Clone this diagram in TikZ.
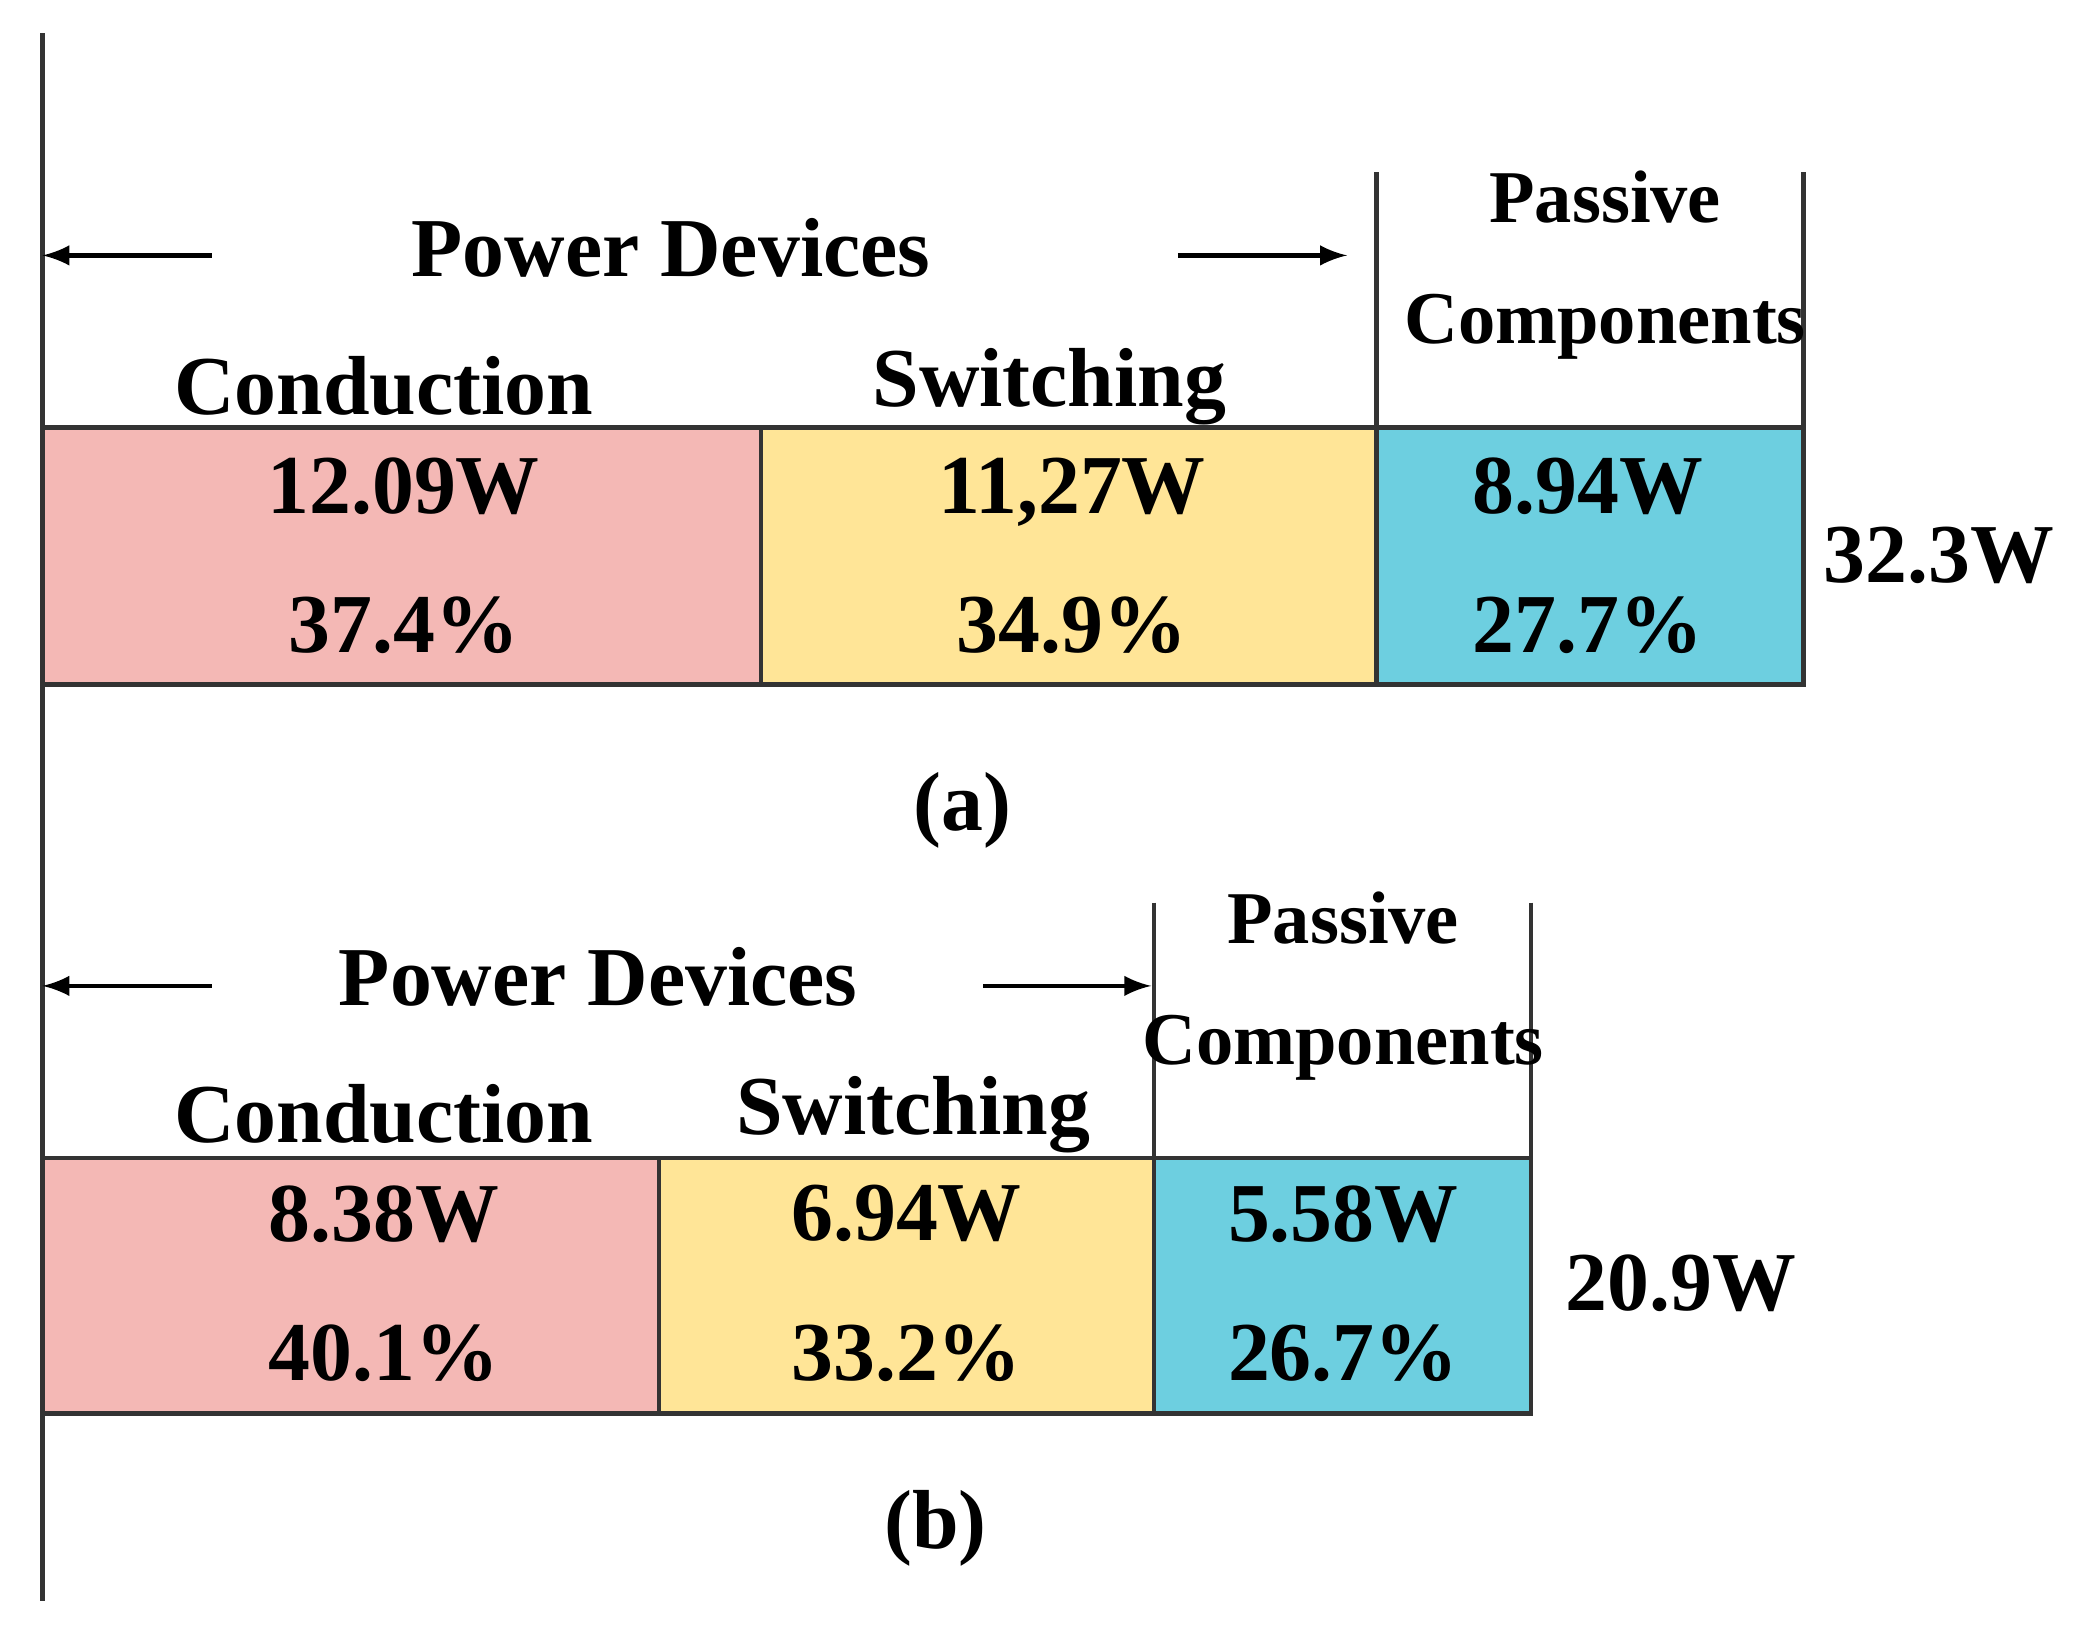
\documentclass[tikz,border=0pt]{standalone}
\usepackage{fontspec}
\setmainfont{Liberation Serif}
\begin{document}
\begin{tikzpicture}[x=0.01cm,y=-0.01cm,
 t/.style={font=\fontsize{18}{20}\selectfont\bfseries,inner sep=0pt},
 s/.style={font=\fontsize{16}{18}\selectfont\bfseries,inner sep=0pt},
 bx/.style={draw=black!80,line width=1pt},
 ln/.style={draw=black!80,line width=1pt},
 ar/.style={-latex,line width=1pt}]
\definecolor{pk}{HTML}{F4B8B5}\definecolor{yl}{HTML}{FFE597}\definecolor{bl}{HTML}{6DCFE0}
\useasboundingbox (0,0) rectangle (1568,1236);
\draw[ln] (32,25) -- (32,1210);
% (a)
\filldraw[bx,fill=pk] (32,323) rectangle (575,517);
\filldraw[bx,fill=yl] (575,323) rectangle (1040,517);
\filldraw[bx,fill=bl] (1040,323) rectangle (1363,517);
\draw[ln] (1040,130) -- (1040,323) (1363,130) -- (1363,323);
\coordinate (a1) at (160,193); \coordinate (a2) at (32,193);
\coordinate (a3) at (890,193); \coordinate (a4) at (1018,193);
\draw[ar] (a1) -- (a2); \draw[ar] (a3) -- (a4);
\node[t] (pa) at (507,187) {Power Devices};
\node[t] (ca) at (290,292) {Conduction};
\node[t] (sa) at (793,292) {Switching};
\node[s,align=center] (pca) at (1213,200) {Passive\\[8pt]Components};
\node[t,align=center] (v1) at (305,420) {12.09W\\[10pt]37.4\%};
\node[t,align=center] (v2) at (810,420) {11,27W\\[10pt]34.9\%};
\node[t,align=center] (v3) at (1200,420) {8.94W\\[10pt]27.7\%};
\node[t] (ta) at (1465,420) {32.3W};
\node[t] (la) at (727,612) {(a)};
% (b)
\filldraw[bx,fill=pk] (32,875) rectangle (498,1068);
\filldraw[bx,fill=yl] (498,875) rectangle (872,1068);
\filldraw[bx,fill=bl] (872,875) rectangle (1157,1068);
\draw[ln] (872,682) -- (872,875) (1157,682) -- (1157,875);
\coordinate (b1) at (160,745); \coordinate (b2) at (32,745);
\coordinate (b3) at (743,745); \coordinate (b4) at (870,745);
\draw[ar] (b1) -- (b2); \draw[ar] (b3) -- (b4);
\node[t] (pb) at (452,738) {Power Devices};
\node[t] (cb) at (290,842) {Conduction};
\node[t] (sb) at (690,842) {Switching};
\node[s,align=center] (pcb) at (1015,745) {Passive\\[8pt]Components};
\node[t,align=center] (w1) at (290,970) {8.38W\\[10pt]40.1\%};
\node[t,align=center] (w2) at (685,970) {6.94W\\[10pt]33.2\%};
\node[t,align=center] (w3) at (1015,970) {5.58W\\[10pt]26.7\%};
\node[t] (tb) at (1270,970) {20.9W};
\node[t] (lb) at (707,1155) {(b)};
\end{tikzpicture}
\end{document}
